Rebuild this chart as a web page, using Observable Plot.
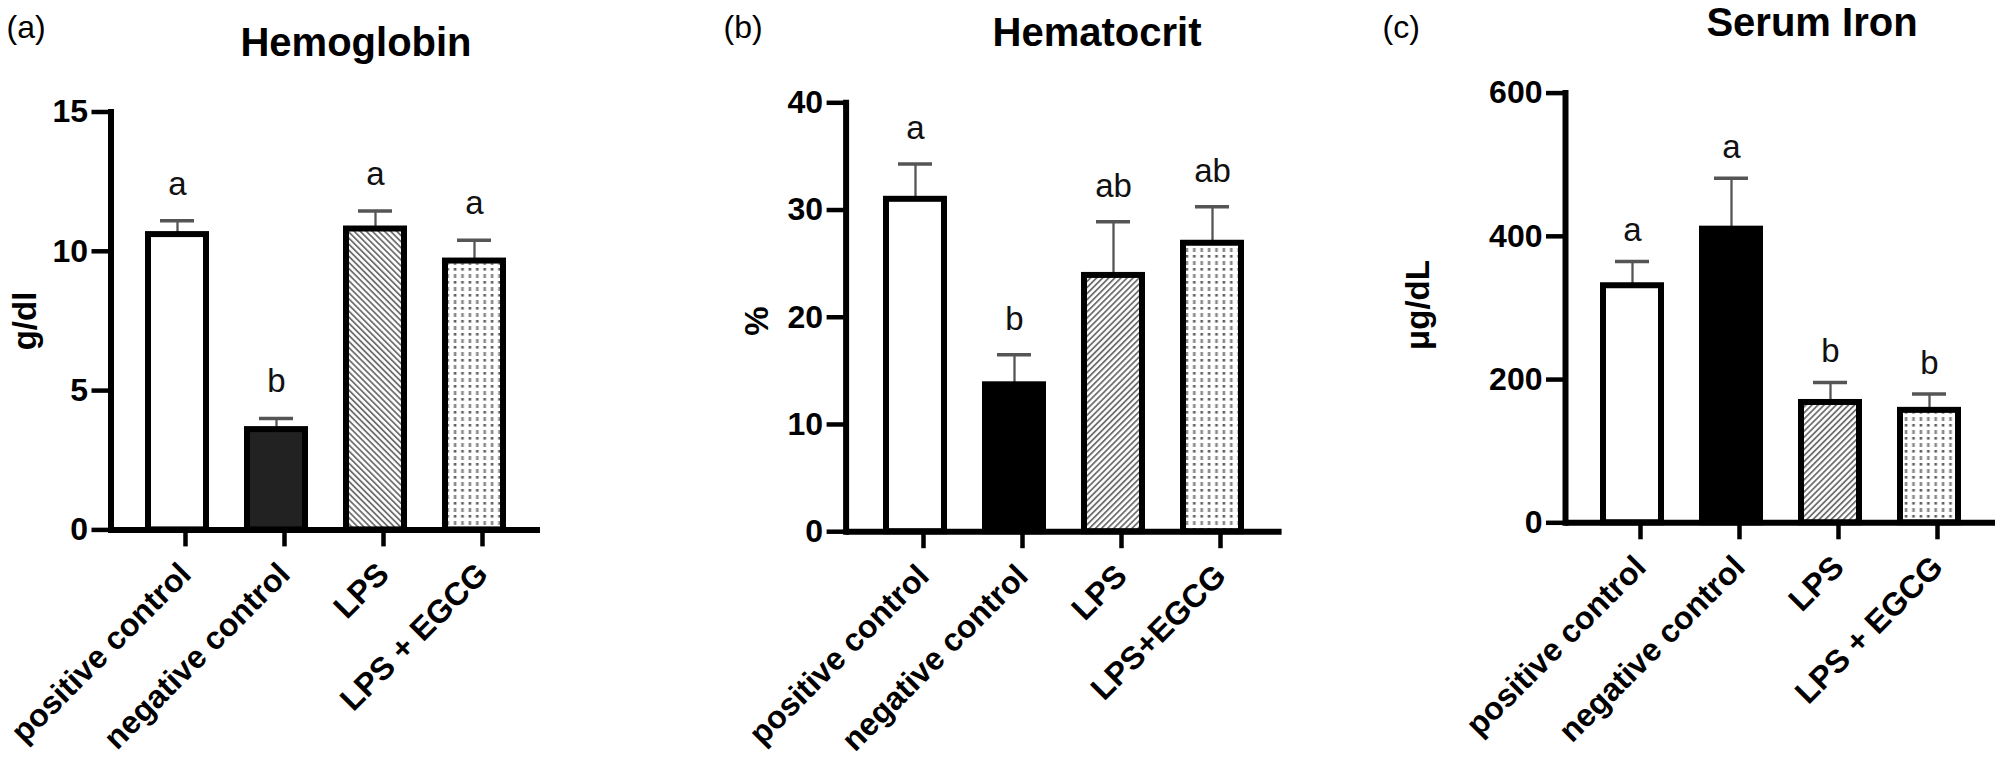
<!DOCTYPE html>
<html>
<head>
<meta charset="utf-8">
<script src="https://cdn.jsdelivr.net/npm/d3@7"></script>
<script src="https://cdn.jsdelivr.net/npm/@observablehq/plot@0.6"></script>
<style>
  html, body { margin: 0; padding: 0; background: #fff; }
  #chart { position: relative; width: 2000px; height: 760px; overflow: hidden; background: #fff;
           font-family: "Liberation Sans", Arial, Helvetica, sans-serif; color: #000; }
  .panel { position: absolute; top: 0; }
  .lbl { position: absolute; font-size: 32px; line-height: 32px; white-space: nowrap; }
  .ttl { position: absolute; font-size: 40px; line-height: 40px; font-weight: bold; white-space: nowrap; transform: translateX(-50%); }
  .ylab { position: absolute; font-size: 33px; line-height: 33px; font-weight: bold; white-space: nowrap;
          transform: translate(-50%, -50%) rotate(-90deg); }
</style>
</head>
<body>
<div id="chart">
  <svg width="0" height="0" style="position:absolute">
    <defs>
      <pattern id="hatchBack" patternUnits="userSpaceOnUse" width="4.3" height="10" patternTransform="rotate(-45)">
        <rect x="0" y="0" width="4.3" height="10" fill="#fff"></rect>
        <rect x="0" y="0" width="1.8" height="10" fill="#707070"></rect>
      </pattern>
      <pattern id="hatchFwd" patternUnits="userSpaceOnUse" width="4.3" height="10" patternTransform="rotate(45)">
        <rect x="0" y="0" width="4.3" height="10" fill="#fff"></rect>
        <rect x="0" y="0" width="1.8" height="10" fill="#707070"></rect>
      </pattern>
      <pattern id="dots" patternUnits="userSpaceOnUse" width="7.4" height="13">
        <rect x="0" y="0" width="7.4" height="13" fill="#fff"></rect>
        <rect x="2.4" y="1" width="2.6" height="4" fill="#8a8a8a"></rect>
        <rect x="2.4" y="8" width="2.6" height="2.6" fill="#5e5e5e"></rect>
      </pattern>
    </defs>
  </svg>
</div>
<script>
// ---------- data ----------
const groupsA = ["positive control", "negative control", "LPS", "LPS + EGCG"];
const groupsB = ["positive control", "negative control", "LPS", "LPS+EGCG"];
const groupsC = ["positive control", "negative control", "LPS", "LPS + EGCG"];

const hemoglobinMean = [10.6, 3.6, 10.8, 9.65];
const hemoglobinSEM  = [0.5, 0.4, 0.65, 0.75];
const hemoglobinLetters = ["a", "b", "a", "a"];

const hematocritMean = [31.0, 13.7, 23.9, 26.9];
const hematocritSEM  = [3.3, 2.8, 5.0, 3.4];
const hematocritLetters = ["a", "b", "ab", "ab"];

const ironMean = [331, 410, 168, 157];
const ironSEM  = [34, 71, 28, 23];
const ironLetters = ["a", "a", "b", "b"];

const ticksA = [0, 5, 10, 15];
const ticksB = [0, 10, 20, 30, 40];
const ticksC = [0, 200, 400, 600];

// ---------- styles ----------
const fillsA = ["#ffffff", "#222222", "url(#hatchBack)", "url(#dots)"];
const fillsBC = ["#ffffff", "#000000", "url(#hatchFwd)", "url(#dots)"];
const FONT = "'Liberation Sans', Arial, Helvetica, sans-serif";

function panel(cfg) {
  const rows = cfg.groups.map((g, i) => ({
    group: g, mean: cfg.means[i], sem: cfg.sems[i], letter: cfg.letters[i], fill: cfg.fills[i]
  }));
  const plot = Plot.plot({
    width: cfg.width,
    height: 760,
    marginLeft: cfg.ml,
    marginRight: cfg.mr,
    marginTop: cfg.mt,
    marginBottom: cfg.mb,
    style: { fontFamily: FONT, color: "#000", background: "transparent", overflow: "visible" },
    x: { type: "band", domain: cfg.groups, paddingInner: 0.416, paddingOuter: cfg.po },
    y: { domain: [0, cfg.yMax] },
    color: { type: "identity" },
    marks: [
      Plot.ruleX(rows, { x: "group", y1: "mean", y2: d => d.mean + d.sem, stroke: "#555", strokeWidth: 2.3 }),
      Plot.tickY(rows, { x: "group", y: d => d.mean + d.sem, stroke: "#555", strokeWidth: 3.5, insetLeft: 12, insetRight: 12 }),
      Plot.barY(rows, { x: "group", y: "mean", fill: "fill", stroke: "#000", strokeWidth: 6 }),
      Plot.ruleY([0], { stroke: "#000", strokeWidth: 6 }),
      Plot.frame({ anchor: "left", stroke: "#000", strokeWidth: 6 }),
      Plot.axisY({ ticks: cfg.ticks, tickSize: 19, tickPadding: 4, strokeWidth: 4.5, fontSize: 32, fontWeight: "bold", label: null, tickFormat: d => String(d) }),
      Plot.axisX({ tickSize: 17, strokeWidth: 4.5, tickRotate: -45, tickPadding: 22, dx: 8, textAnchor: "end", lineAnchor: "middle", fontSize: 32, fontWeight: "bold", label: null }),
      Plot.text(rows, { x: "group", y: d => d.mean + d.sem, text: "letter", lineAnchor: "bottom", dy: cfg.letterDy, fontSize: 33, fill: "#111" })
    ]
  });
  const div = document.createElement("div");
  div.className = "panel";
  div.style.left = cfg.left + "px";
  div.appendChild(plot);
  document.getElementById("chart").appendChild(div);
}

panel({ groups: groupsA, means: hemoglobinMean, sems: hemoglobinSEM, letters: hemoglobinLetters, fills: fillsA,
        ticks: ticksA, yMax: 15, left: 0, width: 560, ml: 110.5, mr: 20, mt: 111.5, mb: 230.6, po: 0.373, letterDy: -26 });
panel({ groups: groupsB, means: hematocritMean, sems: hematocritSEM, letters: hematocritLetters, fills: fillsBC,
        ticks: ticksB, yMax: 40, left: 680, width: 640, ml: 165.6, mr: 38.4, mt: 102.3, mb: 228.8, po: 0.401, letterDy: -25 });
panel({ groups: groupsC, means: ironMean, sems: ironSEM, letters: ironLetters, fills: fillsBC,
        ticks: ticksC, yMax: 600, left: 1340, width: 660, ml: 225, mr: 5, mt: 92.6, mb: 237.7, po: 0.371, letterDy: -20 });

// ---------- titles & labels ----------
const chart = document.getElementById("chart");
function addText(cls, text, left, top) {
  const el = document.createElement("div");
  el.className = cls;
  el.textContent = text;
  el.style.left = left + "px";
  el.style.top = top + "px";
  chart.appendChild(el);
}
addText("lbl", "(a)", 6.5, 11);
addText("lbl", "(b)", 723.6, 11);
addText("lbl", "(c)", 1382.6, 11);
addText("ttl", "Hemoglobin", 356, 22);
addText("ttl", "Hematocrit", 1097, 12);
addText("ttl", "Serum Iron", 1812, 2);
addText("ylab", "g/dl", 24, 321);
addText("ylab", "%", 756, 321);
addText("ylab", "μg/dL", 1417, 305);
</script>
</body>
</html>
